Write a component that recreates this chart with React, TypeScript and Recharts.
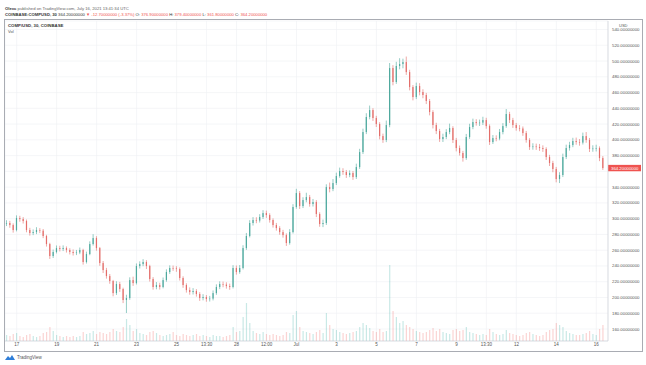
import React from 'react';
import { ComposedChart, Bar, XAxis, YAxis, CartesianGrid, Cell, ReferenceLine } from 'recharts';

const FIRST_OPEN = 294.5;

const closes = [
  294.5, 291.9, 285.6, 300.8, 299.5, 297.0, 285.6, 281.8, 283.0, 285.6,
  284.8, 278.0, 267.8, 252.6, 257.7, 262.7, 261.5, 262.7, 260.2, 257.7,
  256.4, 257.1, 260.2, 245.0, 255.1, 267.8, 275.4, 262.7, 243.7, 234.8,
  227.2, 220.9, 205.6, 217.1, 210.7, 196.8, 199.3, 222.1, 218.3, 239.9,
  242.4, 245.0, 239.9, 223.4, 213.3, 215.8, 213.3, 222.1, 232.3, 237.4,
  236.9, 236.1, 224.7, 215.8, 209.4, 206.9, 208.2, 204.4, 199.3, 200.6,
  198.0, 198.6, 205.6, 213.3, 217.1, 216.4, 214.5, 213.3, 237.4, 232.3,
  237.4, 262.7, 278.0, 294.5, 298.3, 297.6, 302.1, 307.1, 304.6, 298.3,
  291.9, 288.1, 283.0, 279.2, 269.1, 283.0, 314.8, 332.5, 316.0, 323.6,
  327.4, 318.6, 321.1, 305.9, 293.2, 294.5, 340.1, 337.6, 345.2, 354.1,
  360.4, 359.2, 355.4, 357.9, 352.8, 365.5, 384.5, 409.9, 429.0, 437.8,
  427.7, 420.1, 404.8, 399.8, 418.8, 491.1, 473.4, 493.7, 496.2, 498.7,
  486.0, 467.0, 454.3, 468.3, 460.7, 456.9, 449.3, 435.3, 418.8, 411.2,
  401.0, 403.6, 409.9, 415.0, 399.8, 389.6, 383.3, 376.9, 403.6, 416.3,
  422.6, 421.3, 421.9, 425.1, 417.5, 397.2, 402.3, 401.6, 409.9, 417.5,
  432.8, 425.1, 418.8, 415.0, 414.4, 408.6, 399.8, 390.9, 391.6, 390.9,
  389.6, 388.4, 378.2, 370.6, 363.0, 350.3, 355.4, 378.2, 389.6, 393.4,
  398.5, 397.2, 396.5, 404.8, 399.8, 388.4, 389.0, 389.6, 376.9, 364.2,
];

const highs = [
  298.0, 297.2, 294.0, 304.2, 303.6, 302.0, 298.9, 288.4, 286.3, 289.2,
  288.0, 286.9, 279.5, 269.4, 260.8, 266.0, 265.6, 266.1, 264.8, 262.5,
  260.9, 260.3, 263.4, 261.8, 258.2, 271.2, 280.3, 277.8, 264.1, 246.3,
  237.6, 229.8, 222.3, 220.6, 219.8, 212.4, 203.5, 225.6, 226.4, 243.2,
  245.9, 248.6, 247.3, 241.5, 225.8, 219.6, 218.7, 225.4, 235.7, 240.8,
  240.5, 239.7, 238.2, 226.9, 218.0, 212.8, 211.9, 210.6, 206.8, 204.2,
  203.1, 202.0, 208.9, 216.7, 220.5, 220.2, 219.3, 217.6, 241.0, 240.6,
  241.2, 266.3, 281.9, 298.1, 302.0, 301.8, 305.7, 310.8, 310.2, 306.9,
  300.4, 294.6, 290.5, 285.8, 281.3, 286.7, 318.4, 337.9, 335.0, 327.2,
  332.9, 330.1, 325.0, 323.5, 308.1, 298.8, 343.6, 345.8, 350.2, 358.4,
  364.8, 364.0, 361.8, 361.3, 360.5, 369.8, 388.6, 414.2, 433.8, 443.5,
  440.2, 430.5, 422.4, 407.9, 424.5, 497.5, 494.8, 499.0, 503.6, 503.0,
  505.7, 488.9, 469.5, 472.6, 471.9, 464.2, 459.6, 451.8, 437.6, 421.7,
  413.9, 407.8, 413.5, 420.6, 417.3, 402.5, 392.8, 386.0, 407.5, 420.4,
  426.9, 426.2, 425.7, 429.3, 428.0, 419.6, 406.1, 405.8, 413.8, 421.2,
  439.1, 435.6, 427.9, 421.5, 418.7, 417.0, 411.3, 402.1, 395.7, 395.2,
  394.8, 393.0, 390.6, 381.0, 373.4, 365.7, 359.0, 382.5, 393.9, 397.5,
  402.6, 402.9, 401.0, 409.2, 409.9, 402.4, 393.1, 393.8, 391.7, 379.4,
];

const lows = [
  290.6, 288.4, 282.3, 283.9, 296.1, 293.8, 282.7, 278.5, 279.1, 280.4,
  281.7, 275.3, 264.6, 248.9, 250.1, 255.9, 258.4, 258.9, 257.0, 254.6,
  253.2, 253.8, 255.0, 241.7, 243.1, 253.6, 265.9, 259.4, 240.2, 231.0,
  223.9, 217.4, 201.5, 203.2, 207.1, 192.9, 180.3, 197.0, 214.7, 216.5,
  236.8, 239.7, 236.1, 220.2, 209.9, 210.4, 210.1, 211.6, 220.0, 229.9,
  233.8, 232.6, 221.5, 212.3, 206.2, 203.5, 203.8, 201.1, 195.7, 196.4,
  194.6, 194.9, 196.3, 203.4, 210.6, 213.0, 211.2, 209.8, 211.5, 229.0,
  230.1, 235.6, 260.4, 276.2, 291.3, 294.2, 295.1, 299.6, 301.0, 295.0,
  288.7, 284.8, 279.6, 275.9, 265.4, 267.0, 281.2, 312.6, 312.3, 313.5,
  320.8, 315.2, 315.4, 302.0, 289.7, 289.3, 292.0, 333.4, 334.9, 342.7,
  351.9, 355.6, 351.7, 352.6, 349.2, 350.4, 363.1, 382.0, 407.3, 426.1,
  424.0, 416.3, 400.6, 396.2, 397.1, 416.0, 469.2, 471.0, 489.5, 490.8,
  482.4, 462.8, 450.1, 451.7, 456.5, 452.8, 445.4, 431.1, 414.5, 407.3,
  397.4, 397.3, 400.9, 407.2, 396.0, 385.4, 380.1, 372.4, 374.6, 401.2,
  413.5, 418.0, 417.6, 418.8, 414.1, 393.5, 394.8, 398.2, 399.5, 407.0,
  415.3, 421.4, 415.2, 411.6, 410.8, 405.1, 396.4, 387.2, 387.5, 387.3,
  386.0, 384.7, 374.5, 366.8, 358.9, 346.1, 345.2, 352.8, 375.6, 386.4,
  390.7, 393.8, 392.6, 394.1, 396.3, 384.6, 384.9, 385.3, 373.0, 361.8,
];

// volume, thousands COMP
const volumes = [
  6, 5, 7, 8, 5, 4, 6, 7, 5, 4, 5,
  8, 9, 14, 10,
  6, 5, 4, 5, 4, 5, 4, 5,
  9, 7, 8, 10, 7,
  9, 8, 7, 9, 12, 10, 9, 14, 22,
  16, 10, 12, 8, 7, 6, 9, 10, 8,
  6, 5, 6, 7, 9, 6, 5, 7, 6, 5, 6, 7, 5, 6, 5, 4, 6, 5, 5, 4, 5, 6,
  14, 9, 10, 24, 38, 18,
  10, 8, 7, 9, 7, 6, 7, 6, 5, 6, 9, 8,
  26, 30, 14, 10, 9, 8, 7, 9, 11, 8,
  28, 16, 12, 11, 9, 8, 7, 8, 9, 10,
  14, 18, 16, 13, 10, 9, 12, 9, 10,
  76, 30, 24, 18, 20, 16, 14, 12, 10, 9, 8, 9, 11,
  13, 10, 12, 9, 8, 7, 11, 12, 10, 11,
  14, 9, 8, 7, 6, 7, 6, 12, 9, 7, 6, 7, 11, 8, 7, 6, 5, 6, 8, 9, 7, 6, 5, 6,
  9, 11, 12, 18, 16, 14, 10, 8, 7, 6, 6, 7, 8, 10, 7, 6, 12, 16,
];

const tickIdx = [3, 15, 27, 39, 51, 60, 69, 78, 87, 99, 111, 123, 135, 144, 153, 165, 177];
const tickLabels = ['17', '19', '21', '23', '25', '13:30', '28', '12:00', 'Jul', '3', '5', '7', '9', '13:30', '12', '14', '16'];
const priceTicks = [160, 180, 200, 220, 240, 260, 280, 300, 320, 340, 360, 380, 400, 420, 440, 460, 480, 500, 520, 540];

const PRICE_DOMAIN: [number, number] = [144.8, 550.8];
const VOL_DOMAIN: [number, number] = [0, 320];
const UP = '#4ea99e';
const DOWN = '#e36d69';
const W = 637;
const H = 331;
const FONT = '"Liberation Sans", Arial, sans-serif';

const rows: any[] = closes.map((c, i) => ({
  idx: i,
  open: i === 0 ? FIRST_OPEN : closes[i - 1],
  close: c,
  high: highs[i],
  low: lows[i],
  vol: volumes[i],
}));
rows.push({ idx: closes.length }); // right offset, empty slot

const last = rows[closes.length - 1];
const fmt = (v: number) => v.toFixed(8);

function Candle(props: any) {
  const { x, y, width, height, payload } = props;
  if (!payload || payload.high == null) return <g />;
  const top = Math.min(y, y + height);
  const h = Math.abs(height);
  const span = payload.high - payload.low || 1;
  const toY = (v: number) => top + ((payload.high - v) / span) * h;
  const cx = x + width / 2;
  const up = payload.close >= payload.open;
  const col = up ? UP : DOWN;
  const y1 = toY(Math.max(payload.open, payload.close));
  const y2 = toY(Math.min(payload.open, payload.close));
  const bw = 1.2;
  return (
    <g>
      <line x1={cx} x2={cx} y1={top} y2={top + h} stroke={col} strokeWidth={0.6} />
      <rect x={cx - bw / 2} y={y1} width={bw} height={Math.max(0.6, y2 - y1)} fill={col} />
    </g>
  );
}

function PriceTick(props: any) {
  const { x, y, payload } = props;
  // the last-price tag covers the tick next to it, as on TradingView
  if (Math.abs(payload.value - last.close) < 6) return <g />;
  return (
    <text x={x} y={y} dy={1.5} textAnchor="start" fontSize={4.3} fill="#555" fontFamily={FONT}>
      {fmt(payload.value)}
    </text>
  );
}

function TimeTick(props: any) {
  const { x, y, payload } = props;
  const k = tickIdx.indexOf(payload.value);
  return (
    <text x={x} y={y} dy={3.5} textAnchor="middle" fontSize={4.5} fill="#555" fontFamily={FONT}>
      {k >= 0 ? tickLabels[k] : ''}
    </text>
  );
}

function LastPriceLabel(props: any) {
  const vb = props.viewBox || {};
  const lx = vb.x + vb.width;
  return (
    <g>
      <rect x={lx} y={vb.y - 3.2} width={33} height={6.4} fill="#ef5350" />
      <text x={lx + 3} y={vb.y} dy={1.5} fontSize={4.3} fill="#fff" fontFamily={FONT}>
        {fmt(last.close)}
      </text>
    </g>
  );
}

export default function App() {
  const chg = last.close - last.open;
  return (
    <div style={{ position: 'absolute', left: 0, top: 0, width: 646, height: 365, background: '#fff', fontFamily: FONT, overflow: 'hidden' }}>
      <div style={{ position: 'absolute', left: 5, top: 6, fontSize: 4.2, color: '#666', whiteSpace: 'nowrap' }}>
        <b style={{ color: '#333' }}>Olexc</b> published on TradingView.com, July 16, 2021 13:41:34 UTC
      </div>
      <div style={{ position: 'absolute', left: 5, top: 12, fontSize: 4.2, color: '#333', whiteSpace: 'nowrap' }}>
        <b>COINBASE:COMPUSD, 30</b> {fmt(last.close)}{' '}
        <span style={{ color: '#ef5350' }}>▼ {fmt(chg)} ({((chg / last.open) * 100).toFixed(2)}%)</span>{' '}
        O: <span style={{ color: '#ef5350' }}>{fmt(last.open)}</span>{' '}
        H: <span style={{ color: '#ef5350' }}>{fmt(last.high)}</span>{' '}
        L: <span style={{ color: '#ef5350' }}>{fmt(last.low)}</span>{' '}
        C: <span style={{ color: '#ef5350' }}>{fmt(last.close)}</span>
      </div>

      <div style={{ position: 'absolute', left: 4, top: 19, width: W, height: H, border: '1px solid #a9acb3' }} />

      {/* axes, grid and volume */}
      <div style={{ position: 'absolute', left: 5, top: 20 }}>
        <ComposedChart width={W} height={H} data={rows} margin={{ top: 1, right: 0, bottom: 0, left: 0 }} barCategoryGap={0}>
          <CartesianGrid yAxisId="price" stroke="#eef0f4" strokeWidth={0.6} />
          <XAxis
            dataKey="idx"
            type="category"
            ticks={tickIdx}
            interval={0}
            height={10}
            tickSize={0}
            tickMargin={1}
            tick={<TimeTick />}
            axisLine={{ stroke: '#c9ccd3', strokeWidth: 0.6 }}
            tickLine={false}
          />
          <YAxis
            yAxisId="price"
            orientation="right"
            domain={PRICE_DOMAIN}
            ticks={priceTicks}
            interval={0}
            allowDataOverflow
            width={34}
            tickSize={0}
            tickMargin={4}
            tick={<PriceTick />}
            axisLine={{ stroke: '#c9ccd3', strokeWidth: 0.6 }}
            tickLine={false}
          />
          <YAxis yAxisId="vol" hide domain={VOL_DOMAIN} allowDataOverflow />
          <Bar yAxisId="vol" dataKey="vol" barSize={1.2} isAnimationActive={false}>
            {rows.map((r, i) => (
              <Cell key={i} fill={r.close >= r.open ? 'rgba(38,166,154,0.25)' : 'rgba(239,83,80,0.25)'} />
            ))}
          </Bar>
          <ReferenceLine yAxisId="price" y={last.close} stroke="transparent" label={<LastPriceLabel />} />
        </ComposedChart>
      </div>

      {/* candles */}
      <div style={{ position: 'absolute', left: 5, top: 20 }}>
        <ComposedChart width={W} height={H} data={rows} margin={{ top: 1, right: 34, bottom: 10, left: 0 }} barCategoryGap={0}>
          <XAxis dataKey="idx" type="category" hide />
          <YAxis yAxisId="price" hide domain={PRICE_DOMAIN} allowDataOverflow />
          <Bar
            yAxisId="price"
            dataKey={(d: any) => (d.high == null ? null : [d.low, d.high])}
            shape={<Candle />}
            isAnimationActive={false}
          />
        </ComposedChart>
      </div>

      <div style={{ position: 'absolute', left: 8, top: 23, fontSize: 4.3, color: '#333', fontWeight: 700, whiteSpace: 'nowrap' }}>COMP/USD, 30, COINBASE</div>
      <div style={{ position: 'absolute', left: 8, top: 29, fontSize: 4, color: '#555' }}>Vol</div>
      <div style={{ position: 'absolute', left: 619, top: 23, fontSize: 4, color: '#555' }}>USD</div>

      <svg style={{ position: 'absolute', left: 4, top: 353 }} width={40} height={9}>
        <path d="M1 7 L4 3 L6 5 L8 2 L11 7 Z" fill="#2f7ed8" />
        <text x={13} y={6.3} fontSize={4.5} fill="#555" fontFamily={FONT}>TradingView</text>
      </svg>
    </div>
  );
}
